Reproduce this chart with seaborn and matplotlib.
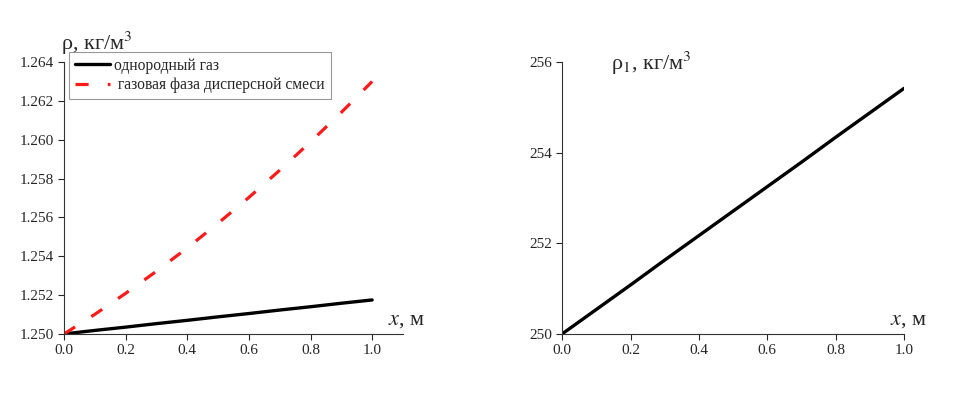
import numpy as np
import pandas as pd
import matplotlib
matplotlib.use('Agg')
import matplotlib.pyplot as plt
import seaborn as sns

# данные
x = [0.0, 0.1, 0.2, 0.3, 0.4, 0.5, 0.6, 0.7, 0.8, 0.9, 1.0]
rho_gas = [1.25000, 1.25018, 1.25035, 1.25053, 1.25070, 1.25088,
           1.25105, 1.25123, 1.25140, 1.25158, 1.25175]
rho_mix = [1.25000, 1.25101, 1.25209, 1.25323, 1.25443, 1.25570,
           1.25703, 1.25843, 1.25989, 1.26141, 1.26300]
rho_1 = [250.00, 250.54, 251.08, 251.63, 252.17, 252.71,
         253.25, 253.79, 254.34, 254.88, 255.42]

left_yticks = [1.250, 1.252, 1.254, 1.256, 1.258, 1.260, 1.262, 1.264]
right_yticks = [250, 252, 254, 256]
xticks = [0.0, 0.2, 0.4, 0.6, 0.8, 1.0]

sns.set_style("ticks")
plt.rcParams['font.family'] = ['Liberation Serif', 'DejaVu Serif']
plt.rcParams['mathtext.fontset'] = 'stix'
plt.rcParams['axes.linewidth'] = 0.8
plt.rcParams['axes.edgecolor'] = '#333333'

df = pd.DataFrame({'x': x, 'gas': rho_gas, 'mix': rho_mix, 'r1': rho_1})

fig = plt.figure(figsize=(9.56, 3.98), dpi=100)
ax1 = fig.add_axes([0.067, 0.161, 0.3545, 0.683])
ax2 = fig.add_axes([0.588, 0.161, 0.3576, 0.683])

sns.lineplot(data=df, x='x', y='gas', ax=ax1, color='black', lw=2.4,
             label='однородный газ')
sns.lineplot(data=df, x='x', y='mix', ax=ax1, color='#ff1a1a', lw=2.3,
             dashes=(4.1, 6.0), label=' газовая фаза дисперсной смеси')
ax1.set_xlim(0, 1.1)
ax1.set_ylim(1.250, 1.264)
ax1.set_xticks(xticks)
ax1.set_yticks(left_yticks)
ax1.set_xticklabels(['%.1f' % t for t in xticks])
ax1.set_yticklabels(['%.3f' % t for t in left_yticks])
leg = ax1.legend(loc='upper left', bbox_to_anchor=(0.016, 1.037), borderaxespad=0,
                 fontsize=11.2, frameon=True, fancybox=False, framealpha=1,
                 handlelength=2.25, handletextpad=0.25, borderpad=0.38, labelspacing=0.22)
leg.get_frame().set_edgecolor('#999999')
leg.get_frame().set_linewidth(0.8)

sns.lineplot(data=df, x='x', y='r1', ax=ax2, color='black', lw=2.4)
ax2.set_xlim(0, 1.0)
ax2.set_ylim(250, 256)
ax2.set_xticks(xticks)
ax2.set_yticks(right_yticks)
ax2.set_xticklabels(['%.1f' % t for t in xticks])

for ax in (ax1, ax2):
    sns.despine(ax=ax)
    ax.set_xlabel('')
    ax.set_ylabel('')
    ax.tick_params(labelsize=11, length=4, width=0.8, direction='out', pad=3)

fig.text(0.064, 0.892, 'ρ, кг/м$^3$', fontsize=16, ha='left', va='center')
fig.text(0.406, 0.195, '$x$, м', fontsize=16, ha='left', va='center')
fig.text(0.639, 0.84, 'ρ$_1$, кг/м$^3$', fontsize=16, ha='left', va='center')
fig.text(0.931, 0.195, '$x$, м', fontsize=16, ha='left', va='center')

fig.savefig('out.png', dpi=100)
